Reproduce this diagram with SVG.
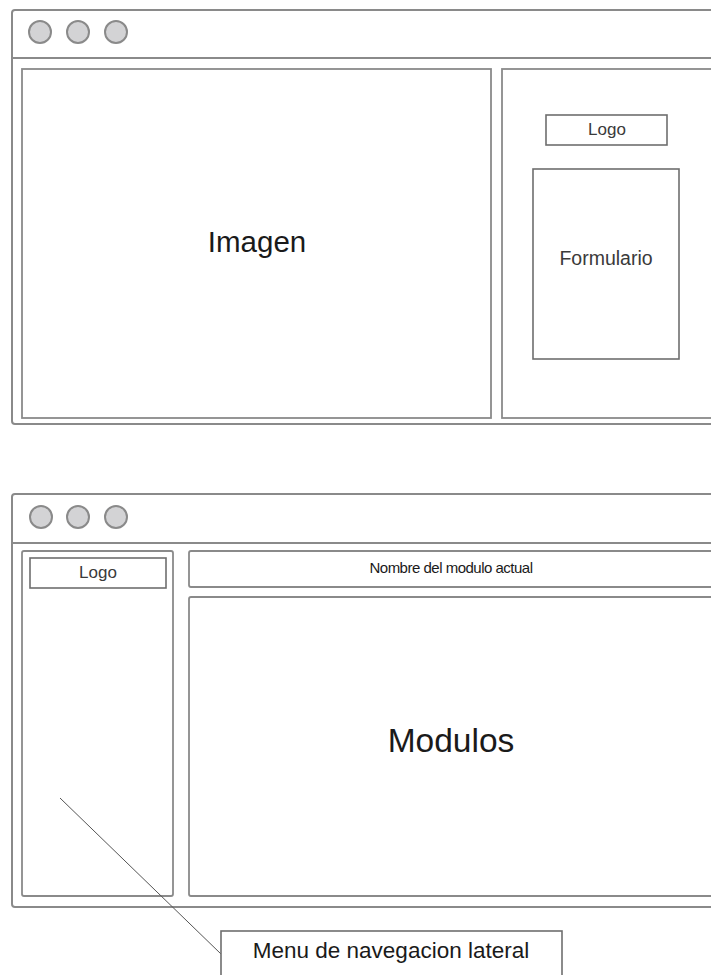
<svg xmlns="http://www.w3.org/2000/svg" width="711" height="975" viewBox="0 0 711 975">
<style>
.frame{fill:#fff;stroke:#8a8a8a;stroke-width:2}
.panel{fill:#fff;stroke:#8a8a8a;stroke-width:1.8}
.box{fill:#fff;stroke:#6e6e6e;stroke-width:1.6}
.dot{fill:#d3d3d5;stroke:#8a8a8a;stroke-width:2}
.sep{stroke:#8a8a8a;stroke-width:2}
text{font-family:"Liberation Sans",Arial,sans-serif;fill:#1a1a1a;text-anchor:middle}
.soft{fill:#3a3a3a}
</style>
<rect width="711" height="975" fill="#fff"/>
<g id="window1">
<rect class="frame" x="12" y="10" width="710" height="414" rx="3"/>
<line class="sep" x1="12" y1="58" x2="711" y2="58"/>
<circle class="dot" cx="40" cy="32" r="11"/>
<circle class="dot" cx="78" cy="32" r="11"/>
<circle class="dot" cx="116" cy="32" r="11"/>
</g>
<g id="imagen">
<rect class="panel" x="22" y="69" width="469" height="349"/>
<text x="257" y="252" font-size="29.5">Imagen</text>
</g>
<g id="panel-derecho">
<rect class="panel" x="502" y="69" width="215" height="349"/>
</g>
<g id="logo1">
<rect class="box" x="546" y="115" width="121" height="30"/>
<text class="soft" x="607" y="135" font-size="17">Logo</text>
</g>
<g id="formulario">
<rect class="box" x="533" y="169" width="146" height="190"/>
<text class="soft" x="606" y="265" font-size="19.5">Formulario</text>
</g>
<g id="window2">
<rect class="frame" x="12" y="494" width="710" height="413" rx="3"/>
<line class="sep" x1="12" y1="543" x2="711" y2="543"/>
<circle class="dot" cx="41" cy="517" r="11"/>
<circle class="dot" cx="78" cy="517" r="11"/>
<circle class="dot" cx="116" cy="517" r="11"/>
</g>
<g id="sidebar">
<rect class="panel" x="22" y="551" width="151" height="345" rx="2"/>
</g>
<g id="logo2">
<rect class="box" x="30" y="558" width="136" height="30"/>
<text class="soft" x="98" y="578" font-size="17">Logo</text>
</g>
<g id="nombre-modulo">
<rect class="panel" x="189" y="551" width="530" height="36" rx="2"/>
<text x="451" y="573" font-size="15" letter-spacing="-0.5">Nombre del modulo actual</text>
</g>
<g id="modulos">
<rect class="panel" x="189" y="597" width="530" height="299" rx="2"/>
<text x="451" y="752" font-size="33.5">Modulos</text>
</g>
<g id="connectors">
<line x1="60" y1="798" x2="221" y2="954" stroke="#555" stroke-width="1"/>
</g>
<g id="menu-label">
<rect class="box" x="221" y="931" width="341" height="60"/>
<text x="391" y="958" font-size="22.5">Menu de navegacion lateral</text>
</g>
</svg>
